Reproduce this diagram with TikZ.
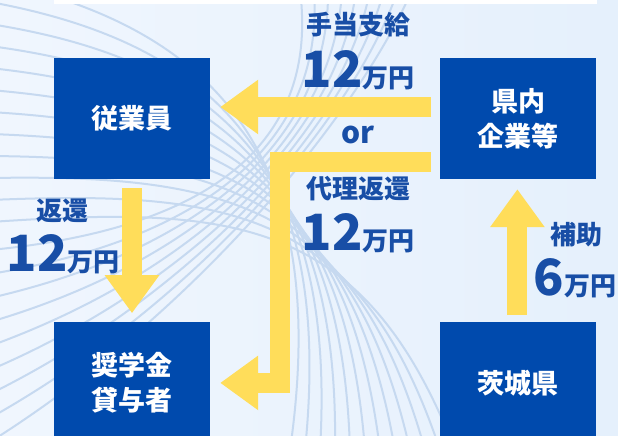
\documentclass[tikz,border=0pt]{standalone}
\usepackage{fontspec}
\newfontfamily\cjk{Noto Sans CJK JP}
\usetikzlibrary{arrows.meta,positioning}

\begin{document}
\begin{tikzpicture}[x=1pt,y=-1pt,
    box/.style={fill=boxblue,minimum width=156pt,minimum height=121pt,inner sep=0pt,text=white,align=center,font=\cjk\bfseries\fontsize{27}{35}\selectfont},
    fat/.style={draw=arrowyellow,line width=20pt,-{Triangle[length=38pt,width=52pt]}},
    lbl/.style={text=labelblue,inner sep=0pt,font=\cjk\bfseries\fontsize{26}{26}\selectfont},
    wave/.style={draw=waveblue,line width=2pt}]
      \definecolor{boxblue}{RGB}{0,74,173}
      \definecolor{arrowyellow}{RGB}{255,221,90}
      \definecolor{labelblue}{RGB}{24,78,166}
      \definecolor{waveblue}{RGB}{198,217,240}
      \definecolor{bgleft}{RGB}{240,246,254}
      \definecolor{bgright}{RGB}{229,240,252}
      \useasboundingbox (0,0) rectangle (618,436);
      \clip (0,0) rectangle (618,436);

      % background
      \shade[left color=bgleft,right color=bgright] (0,0) rectangle (618,436);
      \foreach \i in {0,...,11}
        \draw[wave] (-10,{-20+22*\i}) .. controls (230,{30+16*\i}) and ({330+3*\i},{170+4*\i}) .. ({290+15*\i},450);
      \foreach \i in {0,...,8}
        \draw[wave] (-10,{250+24*\i}) .. controls (200,{230+10*\i}) and ({320+5*\i},{150-5*\i}) .. ({300+14*\i},-10);
      \fill[white] (54,0) rectangle (597,4);

      % boxes
      \node[box] (emp) at (132,118.5) {従業員};
      \node[box,right=230pt of emp] (firm) {県内\\企業等};
      \node[box,below=143pt of emp] (lender) {奨学金\\貸与者};
      \node[box,below=143pt of firm] (pref) {茨城県};

      % arrows
      \draw[fat] ([xshift=-9pt,yshift=11.5pt]firm.west) -- ([xshift=10pt,yshift=11.5pt]emp.east);
      \draw[fat] ([xshift=-9pt,yshift=-43pt]firm.west) -| ([xshift=70pt]lender.east) -- ([xshift=10pt]lender.east);
      \draw[fat] ([yshift=-9pt]emp.south) -- ([yshift=9pt]lender.north);
      \draw[fat] ([xshift=-1pt,yshift=7pt]pref.north) -- ([xshift=-1pt,yshift=-10pt]firm.south);

      % labels
      \node[lbl] (pay) at (358,25) {手当支給};
      \node[lbl,anchor=base] (payamt) at (358,87) {{\fontsize{50}{50}\selectfont 12}万円};
      \node[lbl,anchor=base] (or) at (358,143) {\fontsize{30}{30}\selectfont or};
      \node[lbl] (proxy) at (358,189) {代理返還};
      \node[lbl,anchor=base] (proxyamt) at (358,250) {{\fontsize{50}{50}\selectfont 12}万円};
      \node[lbl] (repay) at (62,211) {返還};
      \node[lbl,anchor=base] (repayamt) at (63,271) {{\fontsize{50}{50}\selectfont 12}万円};
      \node[lbl] (aid) at (576,235) {補助};
      \node[lbl,anchor=base] (aidamt) at (575,295) {{\fontsize{50}{50}\selectfont 6}万円};
\end{tikzpicture}
\end{document}
